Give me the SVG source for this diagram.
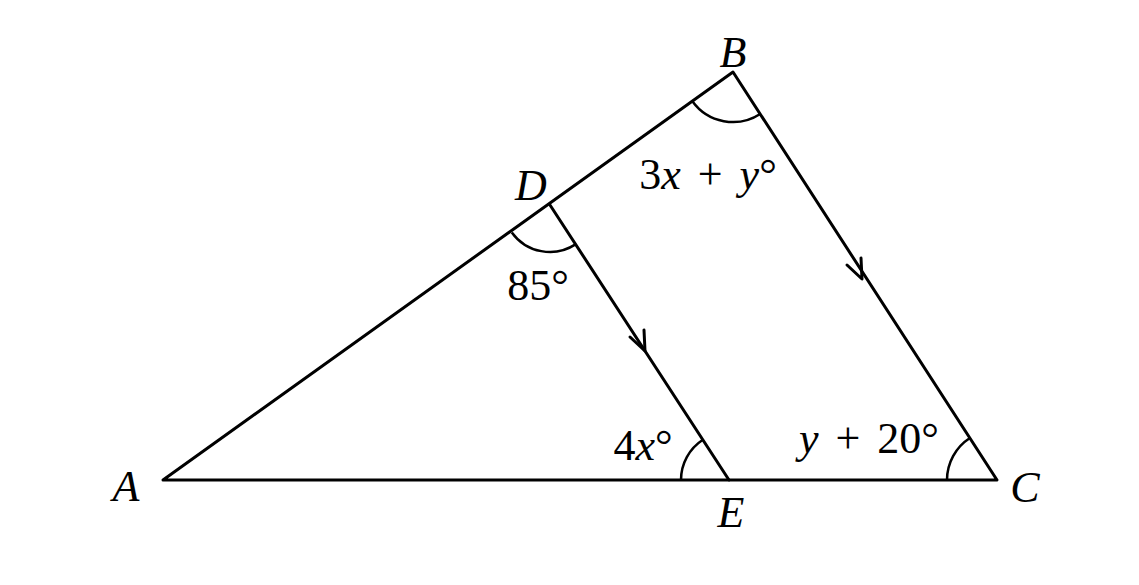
<svg xmlns="http://www.w3.org/2000/svg" width="1139" height="585" viewBox="0 0 1139 585">
<style>
.ln{stroke:#000;stroke-width:3;fill:none;stroke-linecap:round;stroke-linejoin:round}
.arc{stroke:#000;stroke-width:2.5;fill:none}
text{font-family:"Liberation Serif","DejaVu Serif",serif;font-size:44px;fill:#000}
.v{font-style:italic}
.eq{word-spacing:6px}
</style>
<rect width="1139" height="585" fill="#fff"/>
<g id="connectors">
<path class="ln" d="M163,480 L733,72 L997,480 Z"/>
<path class="ln" d="M550,205 L729,480"/>
<path class="ln" d="M630,337 L645,351 L644,330"/>
<path class="ln" d="M847,265 L862,279 L861,258"/>
</g>
<g id="angles">
<path class="arc" d="M692.4,101.2 A50,50 0 0 0 760.2,114"/>
<path class="arc" d="M511.8,232.4 A47,47 0 0 0 575.5,244.4"/>
<path class="arc" d="M681,480 A48,48 0 0 1 702.9,439.7"/>
<path class="arc" d="M947,480 A50,50 0 0 1 969.9,438"/>
</g>
<g id="node-A"><text class="v" x="126" y="501" text-anchor="middle">A</text></g>
<g id="node-B"><text class="v" x="733" y="67" text-anchor="middle">B</text></g>
<g id="node-C"><text class="v" x="1025" y="502" text-anchor="middle">C</text></g>
<g id="node-D"><text class="v" x="531" y="200" text-anchor="middle">D</text></g>
<g id="node-E"><text class="v" x="731" y="527" text-anchor="middle">E</text></g>
<g id="labels">
<text class="eq" x="708" y="189" text-anchor="middle">3<tspan class="v">x</tspan> + <tspan class="v">y</tspan>°</text>
<text x="538" y="300" text-anchor="middle">85°</text>
<text x="643" y="460" text-anchor="middle">4<tspan class="v">x</tspan>°</text>
<text class="eq" x="869" y="453" text-anchor="middle"><tspan class="v">y</tspan> + 20°</text>
</g>
</svg>
